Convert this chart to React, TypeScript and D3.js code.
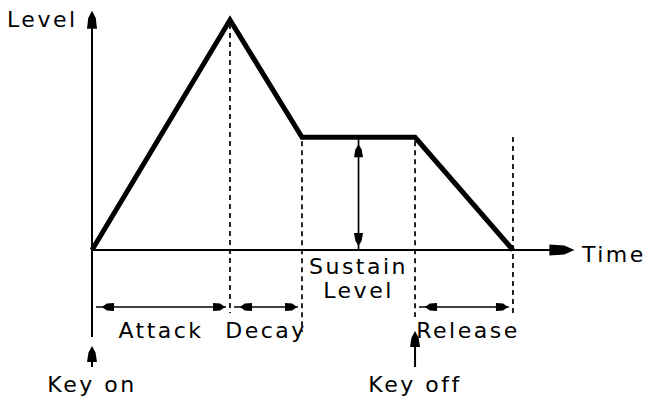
import React from "react";
import * as d3 from "d3";

// envelope breakpoints (time units, level 0..1)
const times = [0, 2.875, 4.375, 6.73, 8.77];
const levels = [0, 1, 0.49, 0.49, 0];
// phase spans shown under the time axis
const phaseNames = ["Attack", "Decay", "Release"];
const phaseStart = [0, 2.875, 6.73];
const phaseEnd = [2.875, 4.375, 8.77];
// key events
const keyNames = ["Key on", "Key off"];
const keyTimes = [0, 6.73];

const W = 647;
const H = 401;
const FONT = "'DejaVu Sans', sans-serif";

// filled arrow head, tip at (tx,ty), pointing along (dx,dy)
// neck = relative half width at 40% of the length
function head(tx: number, ty: number, dx: number, dy: number, len = 12, hw = 4, neck = 0.85) {
  const px = -dy, py = dx;
  const bx = tx - dx * len, by = ty - dy * len;
  const mx = tx - dx * len * 0.4, my = ty - dy * len * 0.4;
  return `M${tx},${ty} L${mx + px * hw * neck},${my + py * hw * neck} L${bx + px * hw},${by + py * hw} L${bx - px * hw},${by - py * hw} L${mx - px * hw * neck},${my - py * hw * neck} Z`;
}

export default function App() {
  const x = d3.scaleLinear().domain([0, 10]).range([92, 572]);
  const y = d3.scaleLinear().domain([0, 1]).range([250, 20]);
  const y0 = y(0);

  const pts: [number, number][] = times.map((t, i) => [x(t), y(levels[i])]);
  const env = d3.line()(pts);

  const txt = {
    fontFamily: FONT,
    fontSize: 22,
    letterSpacing: 2.5,
    fill: "#000",
  } as React.CSSProperties;

  // dashed guides at every breakpoint after attack peak
  const guideBottom = [313, 332, 317, 315];
  const guides = times.slice(1).map((t, i) => ({
    x: x(t),
    top: i === 3 ? 137 : y(levels[i + 1]) + 4,
    bottom: guideBottom[i],
  }));

  const dimY = 307;
  const sx = x((times[2] + times[3]) / 2);
  const sTop = y(levels[2]) + 2;

  return (
    <svg width={W} height={H} style={{ position: "absolute", left: 0, top: 0, background: "#fff" }}>
      {/* axes */}
      <line x1={x(0)} y1={337} x2={x(0)} y2={y(1.02)} stroke="#000" strokeWidth={2} />
      <path d={head(x(0), y(1.04), 0, -1, 18, 5, 0.75)} fill="#000" />
      <line x1={x(0)} y1={y0} x2={x(9.9)} y2={y0} stroke="#000" strokeWidth={2} />
      <path d={head(x(10.05), y0, 1, 0, 25, 5.5, 0.8)} fill="#000" />

      {/* dashed guides */}
      {guides.map((g, i) => (
        <line key={i} x1={g.x} y1={g.top} x2={g.x} y2={g.bottom} stroke="#000" strokeWidth={1.7} strokeDasharray="5,4" />
      ))}

      {/* envelope */}
      <path d={env ?? ""} fill="none" stroke="#000" strokeWidth={5} strokeLinejoin="miter" />

      {/* sustain level arrow */}
      <line x1={sx} y1={sTop} x2={sx} y2={y0 - 1} stroke="#000" strokeWidth={1.7} />
      <path d={head(sx, sTop + 5, 0, -1, 13, 4.5, 0.7)} fill="#000" />
      <path d={head(sx, y0 - 4, 0, 1, 13, 4.5, 0.7)} fill="#000" />

      {/* phase dimension arrows */}
      {phaseNames.map((n, i) => {
        const a = x(phaseStart[i]) + 4;
        const b = x(phaseEnd[i]) - 4;
        return (
          <g key={n}>
            <line x1={a} y1={dimY} x2={b} y2={dimY} stroke="#000" strokeWidth={1.7} />
            <path d={head(a + 6, dimY, -1, 0, 12, 4)} fill="#000" />
            <path d={head(b - 1, dimY, 1, 0, 12, 4)} fill="#000" />
            <text x={(x(phaseStart[i]) + x(phaseEnd[i])) / 2 + (i === 2 ? 4 : 0)} y={338} textAnchor="middle" style={txt}>{n}</text>
          </g>
        );
      })}

      {/* sustain label */}
      <text x={sx} y={274} textAnchor="middle" style={txt}>Sustain</text>
      <text x={sx} y={298} textAnchor="middle" style={txt}>Level</text>

      {/* key events */}
      {keyNames.map((n, i) => {
        const kx = x(keyTimes[i]);
        const tip = i === 0 ? 346 : 331;
        return (
          <g key={n}>
            <line x1={kx} y1={367} x2={kx} y2={tip + 6} stroke="#000" strokeWidth={2} />
            <path d={head(kx, tip, 0, -1, 16, 5, 0.7)} fill="#000" />
            <text x={kx} y={392} textAnchor="middle" style={txt}>{n}</text>
          </g>
        );
      })}

      {/* axis titles */}
      <text x={7} y={27} style={txt}>Level</text>
      <text x={582} y={262} style={txt}>Time</text>
    </svg>
  );
}
